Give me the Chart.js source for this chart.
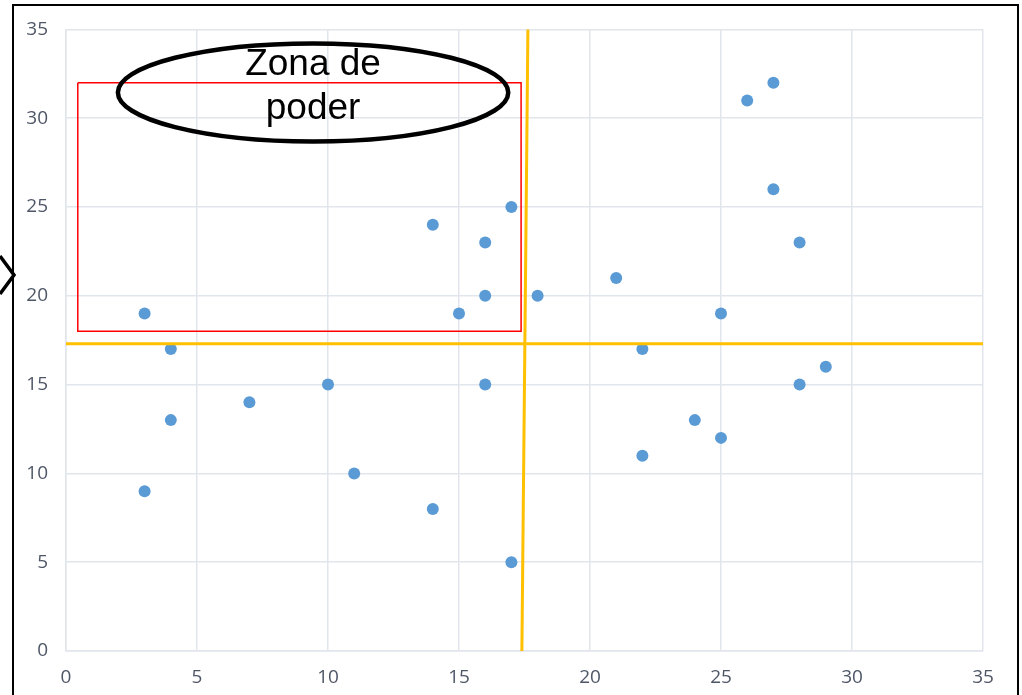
<!DOCTYPE html>
<html>
<head>
<meta charset="utf-8">
<script src="https://cdn.jsdelivr.net/npm/chart.js@4"></script>
<style>
html,body{margin:0;padding:0;background:#fff;}
#wrap{width:1022px;height:695px;position:relative;}
</style>
</head>
<body>
<div id="wrap"><canvas id="c" width="1022" height="695"></canvas></div>
<script>
// Scatter data
const xValues = [3,4,4,3,7,10,11,14,14,15,16,16,16,17,17,18,21,22,22,24,25,25,26,27,27,28,28,29];
const yValues = [19,17,13,9,14,15,10,8,24,19,23,20,15,25,5,20,21,17,11,13,19,12,31,32,26,23,15,16];
// Quadrant divider lines
const hLineX = [0, 35];
const hLineY = [17.3, 17.3];
const vLineX = [17.63, 17.4];
const vLineY = [35, 0];
// "Zona de poder" box
const boxX = [0.45, 17.37, 17.37, 0.45, 0.45];
const boxY = [32, 32, 18, 18, 32];
// Callout ellipse (data units) and its label
const ellipseCenter = [9.43, 31.45];
const ellipseRadii = [7.45, 2.76];
const calloutLines = ["Zona de", "poder"];
// Axis ticks
const axisMin = 0, axisMax = 35, axisStep = 5;

const toPts = (xs, ys) => xs.map((x, i) => ({x: x, y: ys[i]}));

const decor = {
  id: 'decor',
  afterDatasetsDraw(chart) {
    const ctx = chart.ctx;
    const xs = chart.scales.x, ys = chart.scales.y;
    const cx = xs.getPixelForValue(ellipseCenter[0]);
    const cy = ys.getPixelForValue(ellipseCenter[1]);
    const rx = xs.getPixelForValue(ellipseCenter[0] + ellipseRadii[0]) - cx;
    const ry = cy - ys.getPixelForValue(ellipseCenter[1] + ellipseRadii[1]);
    ctx.save();
    ctx.beginPath();
    ctx.ellipse(cx, cy, rx, ry, 0, 0, Math.PI * 2);
    ctx.lineWidth = 4.5;
    ctx.strokeStyle = '#000';
    ctx.stroke();
    ctx.fillStyle = '#000';
    ctx.font = '37px "Liberation Sans", Arial, sans-serif';
    ctx.textAlign = 'center';
    ctx.textBaseline = 'alphabetic';
    ctx.fillText(calloutLines[0], cx, cy - 17);
    ctx.fillText(calloutLines[1], cx, cy + 27);
    // outer frame
    ctx.lineWidth = 2;
    ctx.beginPath();
    ctx.moveTo(13, 700);
    ctx.lineTo(13, 5);
    ctx.lineTo(1018, 5);
    ctx.lineTo(1018, 700);
    ctx.stroke();
    // chevron on left edge
    ctx.lineWidth = 3.5;
    ctx.beginPath();
    ctx.moveTo(0, 256);
    ctx.lineTo(14, 275);
    ctx.lineTo(0, 294);
    ctx.stroke();
    ctx.restore();
  }
};

const tickFont = { family: '"Open Sans", "Liberation Sans", sans-serif', size: 19 };

new Chart(document.getElementById('c'), {
  type: 'scatter',
  data: {
    datasets: [
      {
        label: 'Zona',
        data: toPts(boxX, boxY),
        showLine: true,
        borderColor: '#ff0000',
        borderWidth: 1.5,
        pointRadius: 0,
        fill: false,
        tension: 0,
        clip: false
      },
      {
        label: 'H',
        data: toPts(hLineX, hLineY),
        showLine: true,
        borderColor: '#FFC000',
        borderWidth: 3,
        pointRadius: 0,
        clip: false
      },
      {
        label: 'V',
        data: toPts(vLineX, vLineY),
        showLine: true,
        borderColor: '#FFC000',
        borderWidth: 3,
        pointRadius: 0,
        clip: false
      },
      {
        label: 'Datos',
        data: toPts(xValues, yValues),
        backgroundColor: '#5B9BD5',
        borderColor: '#5B9BD5',
        borderWidth: 0,
        pointRadius: 6,
        pointHoverRadius: 6
      }
    ]
  },
  options: {
    responsive: false,
    animation: false,
    devicePixelRatio: 1,
    layout: { padding: { left: 0, top: 28, right: 39, bottom: 0 } },
    plugins: { legend: { display: false }, tooltip: { enabled: false } },
    scales: {
      x: {
        type: 'linear',
        min: axisMin, max: axisMax,
        ticks: { stepSize: axisStep, padding: 15, color: '#4f5767', font: tickFont },
        grid: { color: '#e1e5ec', lineWidth: 1.5, drawTicks: false },
        border: { color: '#e1e5ec', width: 1.5 },
        afterFit(s) { s.height = 44; }
      },
      y: {
        type: 'linear',
        min: axisMin, max: axisMax,
        ticks: { stepSize: axisStep, padding: 18, color: '#4f5767', font: tickFont },
        grid: { color: '#e1e5ec', lineWidth: 1.5, drawTicks: false },
        border: { color: '#e1e5ec', width: 1.5 },
        afterFit(s) { s.width = 66; }
      }
    }
  },
  plugins: [decor]
});
</script>
</body>
</html>
